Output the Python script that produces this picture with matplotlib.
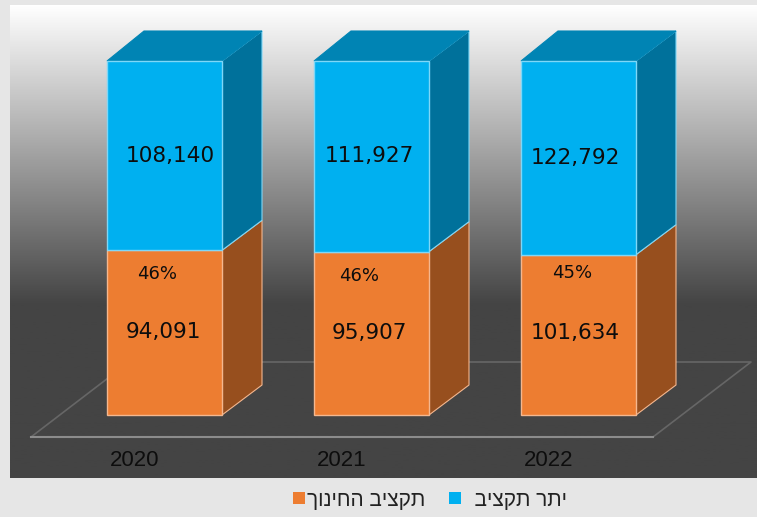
"""Education budget vs surplus budget, 100% stacked 3D-look columns."""
import numpy as np
import matplotlib
matplotlib.use("Agg")
import matplotlib.pyplot as plt
from matplotlib.colors import LinearSegmentedColormap
from matplotlib.patches import Patch

years = ["2020", "2021", "2022"]
education = [94091, 95907, 101634]
surplus = [108140, 111927, 122792]
share_labels = ["46%", "46%", "45%"]
education_name = "תקציב החינוך"
surplus_name = "יתר תקציב"

W, H = 757, 517
BASE_PX, TOP_PX = 415, 61
X0_PX, STEP_PX = 164.5, 207
BAR_W = 115 / STEP_PX
DX, DY = 40 / STEP_PX, 30 / (BASE_PX - TOP_PX)

ORANGE = ("#ed7d31", "#974f1e")
BLUE = ("#00b0f0", "#00719b", "#0084b4")
TXT = "#0d0d0d"


def to_data(px, py):
    return (px - X0_PX) / STEP_PX, (BASE_PX - py) / (BASE_PX - TOP_PX)


def segment(ax, i, lo, hi, colors, edge, top=False):
    l, r = i - BAR_W / 2, i + BAR_W / 2
    ax.fill([r, r + DX, r + DX, r], [lo, lo + DY, hi + DY, hi],
            fc=colors[1], ec=edge, lw=0.8, zorder=4)
    if top:
        ax.fill([l, r, r + DX, l + DX - 3 / STEP_PX], [hi, hi, hi + DY, hi + DY],
                fc=colors[2], ec=colors[2], lw=0.8, zorder=4)
    ax.fill([l, r, r, l], [lo, lo, hi, hi], fc=colors[0], ec=edge, lw=1, zorder=5)


def main():
    fig = plt.figure(figsize=(W / 100, H / 100), dpi=100, facecolor="#e6e6e6")
    ax = fig.add_axes([0, 0, 1, 1])
    ax.axis("off")

    # panel background
    x1, y1 = to_data(10, 478)
    x2, y2 = to_data(757, 6)
    cmap = LinearSegmentedColormap.from_list(
        "panel", [(0, "#ffffff"), (0.633, "#444444"), (1, "#444444")])
    ax.imshow(np.linspace(0, 1, 256)[:, None], cmap=cmap, aspect="auto",
              extent=[x1, x2, y1, y2], origin="upper", zorder=0)
    ax.set_xlim(to_data(0, 0)[0], to_data(W, 0)[0])
    ax.set_ylim(to_data(0, H)[1], to_data(0, 0)[1])

    # floor
    fx = [31, 653, 751, 129, 31]
    fy = [437, 437, 362, 362, 437]
    fdata = [to_data(a, b) for a, b in zip(fx, fy)]
    ax.plot([p[0] for p in fdata[1:]], [p[1] for p in fdata[1:]],
            color="#666666", lw=1.2, zorder=2)
    ax.plot([p[0] for p in fdata[:2]], [p[1] for p in fdata[:2]],
            color="#8c8c8c", lw=1.5, zorder=2)

    edu_off = [(-1, 1), (-2, 0), (-3, 2)]
    sur_off = [(6, 0), (-2, 0), (-3, 0)]
    pct_off = [(-7.5, -24), (-12, -24), (-6, -18)]
    tick_dx = -30

    for i, year in enumerate(years):
        share = education[i] / (education[i] + surplus[i])
        segment(ax, i, 0, share, ORANGE, "#f4b78f")
        segment(ax, i, share, 1, BLUE, "#7fd7f7", top=True)

        ax.annotate(f"{education[i]:,}", (i, share / 2), xytext=edu_off[i],
                    textcoords="offset pixels", ha="center", va="center",
                    fontsize=15.6, color=TXT, zorder=6)
        ax.annotate(f"{surplus[i]:,}", (i, (share + 1) / 2), xytext=sur_off[i],
                    textcoords="offset pixels", ha="center", va="center",
                    fontsize=15.6, color=TXT, zorder=6)
        ax.annotate(share_labels[i], (i, share), xytext=pct_off[i],
                    textcoords="offset pixels", ha="center", va="center",
                    fontsize=13, color=TXT, zorder=6)
        ax.annotate(year, (i, to_data(0, 460)[1]), xytext=(tick_dx, 0),
                    textcoords="offset pixels", ha="center", va="center",
                    family="Liberation Sans", fontsize=16, color=TXT, zorder=6)

    # matplotlib has no bidi, so hebrew goes in visual order
    handles = [Patch(fc=ORANGE[0], label=education_name[::-1]),
               Patch(fc=BLUE[0], label="  " + surplus_name[::-1])]
    fig.legend(handles=handles, ncol=2, frameon=False, loc="center",
               bbox_to_anchor=(430 / W, 1 - 500 / H),
               prop={"family": "Liberation Sans", "size": 15},
               handlelength=0.55, handleheight=0.55, handletextpad=0.1,
               columnspacing=1.15, labelcolor="#222222")

    fig.savefig("out.png", dpi=100, facecolor=fig.get_facecolor())


if __name__ == "__main__":
    main()
